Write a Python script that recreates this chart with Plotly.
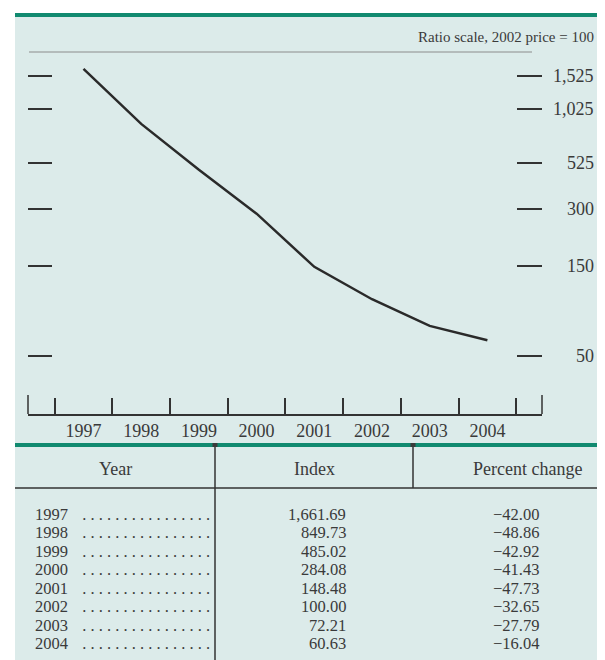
import math
import plotly.graph_objects as go

# ---- data ----
years = [1997, 1998, 1999, 2000, 2001, 2002, 2003, 2004]
index_values = [1661.69, 849.73, 485.02, 284.08, 148.48, 100.00, 72.21, 60.63]
percent_change = [-42.00, -48.86, -42.92, -41.43, -47.73, -32.65, -27.79, -16.04]
y_tick_values = [50, 150, 300, 525, 1025, 1525]
scale_note = "Ratio scale, 2002 price = 100"
table_headers = ["Year", "Index", "Percent change"]

# ---- geometry helpers (window pixels -> paper); page body has an 8px margin ----
OFF = 8
W, H = 605 - OFF, 660 - OFF
def px(x):
    return (x - OFF) / W
def py(y):
    return 1 - (y - OFF) / H

BG = "#dcebea"
GREEN = "#118a70"
INK = "#333333"
TXT = "#3a3a3a"
FONT = "Liberation Serif"
ROW_FS = 16.5

fig = go.Figure()
fig.add_trace(go.Scatter(
    x=years, y=index_values, mode="lines",
    line=dict(color="#2a2a2a", width=2.5), yaxis="y", hoverinfo="skip",
    showlegend=False,
))
# invisible trace to activate right axis
fig.add_trace(go.Scatter(x=[years[0]], y=[index_values[0]], yaxis="y2",
                         mode="markers", marker=dict(opacity=0), showlegend=False,
                         hoverinfo="skip"))

x_left, x_right = 28, 542
y_top, y_bot = 52, 414
half_years = [y - 0.5 for y in years] + [years[-1] + 0.5]
pitch = 57.7
x0 = years[0] - (83.5 - x_left) / pitch
x1 = years[0] + (x_right - 83.5) / pitch

ylog_bottom = math.log10(50) - (y_bot - 356) / 188.8
ylog_top = math.log10(1525) + (76 - y_top) / 188.8

shapes = []
# panel background
shapes.append(dict(type="rect", xref="paper", yref="paper", x0=px(15), x1=px(605),
                   y0=py(660), y1=py(15), fillcolor=BG, line=dict(width=0), layer="below"))
# green rules
for yy in (13, 443):
    shapes.append(dict(type="rect", xref="paper", yref="paper", x0=px(15), x1=px(605),
                       y0=py(yy + 4), y1=py(yy), fillcolor=GREEN, line=dict(width=0)))
# thin gray top rule
shapes.append(dict(type="line", xref="paper", yref="paper", x0=px(29), x1=px(532),
                   y0=py(52), y1=py(52), line=dict(color="#8c8c8c", width=1)))
# outer taller axis ticks
for xx in (0, 1):
    shapes.append(dict(type="line", xref="x domain", yref="paper", x0=xx, x1=xx,
                       y0=py(y_bot), y1=py(395), line=dict(color=INK, width=1.5)))
# table lines
shapes.append(dict(type="line", xref="paper", yref="paper", x0=px(15), x1=px(605),
                   y0=py(488), y1=py(488), line=dict(color=INK, width=1.5)))
shapes.append(dict(type="line", xref="paper", yref="paper", x0=px(215), x1=px(215),
                   y0=py(447), y1=py(660), line=dict(color=INK, width=1.5)))
shapes.append(dict(type="line", xref="paper", yref="paper", x0=px(413), x1=px(413),
                   y0=py(447), y1=py(488), line=dict(color=INK, width=1.5)))
for xx in (215, 413):
    shapes.append(dict(type="rect", xref="paper", yref="paper", x0=px(xx - 2.5), x1=px(xx + 2.5),
                       y0=py(447), y1=py(443), fillcolor="#3a3a3a", line=dict(width=0)))

annotations = []
annotations.append(dict(text=scale_note, xref="paper", yref="paper", x=px(596), y=py(37),
                        xanchor="right", yanchor="middle", showarrow=False,
                        font=dict(family=FONT, size=15, color=TXT)))
for v in y_tick_values:
    annotations.append(dict(text=f"{v:,}", xref="paper", yref="y", x=px(596), y=math.log10(v),
                            xanchor="right", yanchor="middle", showarrow=False,
                            font=dict(family=FONT, size=18, color=TXT)))
# table header
header_x = [115, 314, 527]
for t, hx in zip(table_headers, header_x):
    annotations.append(dict(text=t, xref="paper", yref="paper", x=px(hx), y=py(469),
                            xanchor="center", yanchor="middle", showarrow=False,
                            font=dict(family=FONT, size=18, color=TXT)))
# table rows
for i, (yr, iv, pc) in enumerate(zip(years, index_values, percent_change)):
    ry = 514 + i * 18.5
    row_font = dict(family=FONT, size=ROW_FS, color=TXT)
    annotations.append(dict(text=str(yr), xref="paper", yref="paper", x=px(34), y=py(ry),
                            xanchor="left", yanchor="middle", showarrow=False,
                            borderpad=0, font=row_font))
    annotations.append(dict(text=" ." * 16, xref="paper", yref="paper", x=px(211), y=py(ry),
                            xanchor="right", yanchor="middle", showarrow=False,
                            borderpad=0, font=dict(family=FONT, size=ROW_FS, color=TXT)))
    annotations.append(dict(text=f"{iv:,.2f}", xref="paper", yref="paper", x=px(347), y=py(ry),
                            xanchor="right", yanchor="middle", showarrow=False,
                            borderpad=0, font=row_font))
    annotations.append(dict(text=f"{pc:.2f}".replace("-", "\u2212"), xref="paper", yref="paper",
                            x=px(540), y=py(ry), xanchor="right", yanchor="middle",
                            showarrow=False, borderpad=0, font=row_font))

fig.update_layout(
    width=W, height=H, margin=dict(l=0, r=0, t=0, b=0),
    paper_bgcolor="white", plot_bgcolor="rgba(0,0,0,0)",
    showlegend=False,
    xaxis=dict(domain=[px(x_left), px(x_right)], range=[x0, x1],
               tickmode="array", tickvals=years, ticktext=[str(y) for y in years],
               ticks="", showgrid=False, zeroline=False,
               showline=True, linecolor=INK, linewidth=1.5,
               tickfont=dict(family=FONT, size=18, color=TXT),
               minor=dict(tickmode="array", tickvals=half_years, ticks="inside",
                          ticklen=16, tickcolor=INK, tickwidth=1.5, showgrid=False),
               fixedrange=True),
    yaxis=dict(domain=[py(y_bot), py(y_top)], type="log", range=[ylog_bottom, ylog_top],
               tickmode="array", tickvals=y_tick_values, ticks="inside", ticklen=24,
               tickwidth=1.5, tickcolor=INK, showticklabels=False, showgrid=False,
               zeroline=False, showline=False, fixedrange=True),
    yaxis2=dict(overlaying="y", side="right", type="log", range=[ylog_bottom, ylog_top],
                tickmode="array", tickvals=y_tick_values, ticks="inside", ticklen=25,
                tickwidth=1.5, tickcolor=INK, showticklabels=False, showgrid=False,
                zeroline=False, showline=False, fixedrange=True),
    shapes=shapes, annotations=annotations,
)

fig.write_html("out.html")
